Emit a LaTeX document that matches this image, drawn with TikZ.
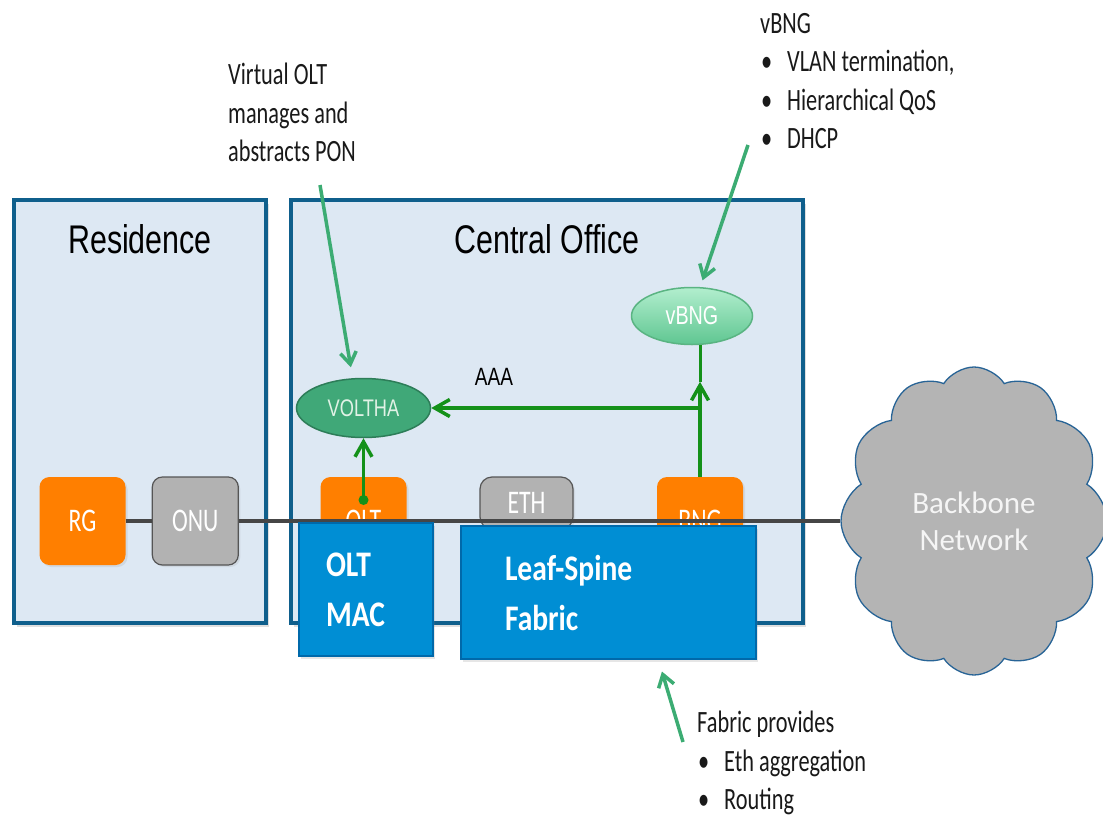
\documentclass[tikz,border=0pt]{standalone}
\usepackage{fontspec}
\usepackage{xcolor}
\usepackage{tikz}
\usetikzlibrary{arrows.meta,positioning,shapes.geometric,shapes.symbols,shadows}
\newfontfamily\arialfont[FakeStretch=0.76]{Liberation Sans}
\newfontfamily\calibrifont[FakeStretch=0.72]{Carlito}
\newfontfamily\labelfont[FakeStretch=0.82]{Carlito}
\newfontfamily\cloudfont{Carlito}
\definecolor{arealine}{RGB}{15,95,140}
\definecolor{areafill}{RGB}{221,232,243}
\definecolor{devorange}{RGB}{255,127,0}
\definecolor{devgray}{RGB}{178,178,178}
\definecolor{devgrayline}{RGB}{85,85,85}
\definecolor{wiregray}{RGB}{70,70,70}
\definecolor{fabricblue}{RGB}{0,142,212}
\definecolor{blueline}{RGB}{0,105,170}
\definecolor{voltfill}{RGB}{64,168,120}
\definecolor{voltline}{RGB}{45,125,88}
\definecolor{volttext}{RGB}{225,242,230}
\definecolor{vbngtop}{RGB}{178,238,206}
\definecolor{vbngbot}{RGB}{95,198,145}
\definecolor{vbngline}{RGB}{90,180,130}
\definecolor{linkgreen}{RGB}{20,145,25}
\definecolor{pointgreen}{RGB}{60,172,115}
\definecolor{cloudgray}{RGB}{180,180,180}
\definecolor{cloudline}{RGB}{40,100,150}
\definecolor{cloudtext}{RGB}{245,245,245}
\definecolor{notetext}{RGB}{25,25,25}
\newcommand{\bulletitem}[1]{\hspace*{1pt}\makebox[26pt][l]{\textbullet}#1}

\begin{document}
\begin{tikzpicture}[x=1pt, y=-1pt, node distance=26pt,
    area/.style={draw=arealine, line width=4pt, fill=areafill, minimum height=423pt,
      drop shadow={shadow xshift=3pt, shadow yshift=-4pt, opacity=0.25}},
    areatitle/.style={anchor=base, text=black, font=\arialfont\fontsize{40}{46}\selectfont},
    device/.style={rounded corners=10pt, minimum width=86pt, minimum height=88pt, text=white,
      font=\calibrifont\fontsize{33}{38}\selectfont,
      drop shadow={shadow xshift=2pt, shadow yshift=-2pt, opacity=0.15}},
    orangebox/.style={device, fill=devorange},
    graybox/.style={device, fill=devgray, draw=devgrayline, line width=1.2pt},
    bluebox/.style={draw=blueline, line width=2pt, fill=fabricblue, minimum height=133pt,
      anchor=north west, align=left, text=white, font=\labelfont\bfseries\fontsize{36}{50}\selectfont,
      drop shadow={shadow xshift=2pt, shadow yshift=-3pt, opacity=0.2}},
    ctrl/.style={ellipse, line width=1.5pt, font=\arialfont\fontsize{24}{27}\selectfont},
    wire/.style={draw=wiregray, line width=4pt},
    link/.style={draw=linkgreen, line width=3.5pt, -{Straight Barb[length=15pt,width=17pt]}},
    pointer/.style={draw=pointgreen, line width=3.5pt, -{Straight Barb[length=12pt,width=16pt]}},
    note/.style={anchor=north west, inner sep=0pt, align=left, text=notetext,
      font=\calibrifont\fontsize{31}{38.5}\selectfont}]
  \useasboundingbox (0,0) rectangle (1103,816);

  % residence and central office
  \node[area, minimum width=252pt] (res) at (140,411.5) {};
  \node[area, minimum width=512pt] (co) at (547,411.5) {};
  \node[areatitle] (restitle) at (140,253) {Residence};
  \node[areatitle] (cotitle) at (547,253) {Central Office};

  % devices on the access line
  \node[orangebox] (rg) at (82.5,521) {RG};
  \node[graybox, right=of rg] (onu) {ONU};
  \node[orangebox] (olt) at (363.5,521) {OLT};
  \node[graybox, minimum width=93pt, minimum height=52pt, rounded corners=12pt] (eth) at (526.5,503) {ETH};
  \node[orangebox] (bng) at (700,521) {BNG};

  \node[cloud, cloud puffs=12, cloud puff arc=115, cloud ignores aspect, draw=cloudline, line width=1.3pt,
    fill=cloudgray, minimum width=266pt, minimum height=308pt, align=center, text=cloudtext,
    font=\cloudfont\fontsize{31}{37}\selectfont] (backbone) at (974,521) {Backbone\\Network};

  \draw[wire] (rg) -- (onu);
  \draw[wire] (onu) -- (backbone);

  % hardware
  \node[bluebox, inner xsep=27pt, text width=80pt] (oltmac) at (298,522) {OLT\\MAC};
  \node[bluebox, inner xsep=44pt, text width=207pt] (fabric) at (460,525) {Leaf-Spine\\Fabric};

  % control plane
  \node[ctrl, draw=voltline, fill=voltfill, text=volttext, minimum width=134pt, minimum height=59pt] (voltha) at (363.5,408) {VOLTHA};
  \node[ctrl, draw=vbngline, top color=vbngtop, bottom color=vbngbot, text=white, minimum width=121pt,
    minimum height=57pt, font=\arialfont\fontsize{26}{30}\selectfont] (vbng) at (692,316) {vBNG};

  \coordinate (oltport) at (363.5,500);
  \fill[linkgreen] (oltport) circle (5pt);
  \draw[link] (oltport) -- (voltha);
  \coordinate (aaamid) at ([yshift=95pt]bng.north);
  \coordinate (aaatap) at (bng.north |- voltha.east);
  \draw[link] (bng.north) -- (aaamid);
  \draw[draw=linkgreen, line width=3pt] (aaamid) -- (bng.north |- vbng.south);
  \draw[link] (aaatap) -- (voltha.east);
  \node[anchor=base, font=\arialfont\fontsize{25}{28}\selectfont] (aaa) at (494,385) {AAA};

  % callouts
  \node[note] (voltnote) at (228,63) {Virtual OLT\\manages and\\abstracts PON};
  \node[note] (vbngnote) at (760,13) {vBNG\\\bulletitem{VLAN termination,}\\\bulletitem{Hierarchical QoS}\\\bulletitem{DHCP}};
  \node[note] (fabnote) at (697,711) {Fabric provides\\\bulletitem{Eth aggregation}\\\bulletitem{Routing}};

  \coordinate (voltnote-tail) at (320,185);
  \draw[pointer, shorten >=11pt] (voltnote-tail) -- (voltha.110);
  \coordinate (vbngnote-tail) at (748,145);
  \draw[pointer, shorten >=7pt] (vbngnote-tail) -- (vbng.74);
  \coordinate (fabnote-tail) at (683,742);
  \draw[pointer, shorten >=12pt] (fabnote-tail) -- ([xshift=50pt]fabric.south);
\end{tikzpicture}
\end{document}
